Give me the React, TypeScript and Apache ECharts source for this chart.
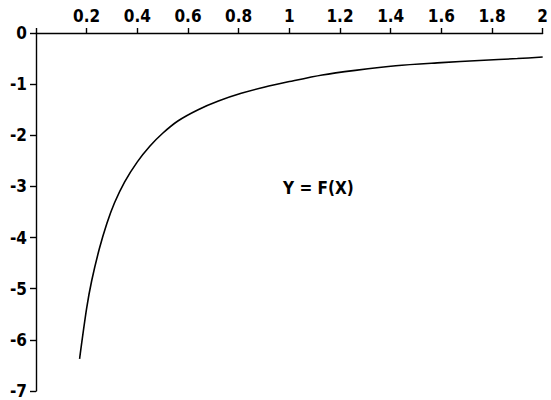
import React, { useEffect, useRef } from "react";
import * as echarts from "echarts";

const xValues = [0.172, 0.2, 0.22, 0.25, 0.28, 0.31, 0.35, 0.4, 0.45, 0.5, 0.56, 0.64, 0.72, 0.81, 0.9, 1.0, 1.13, 1.26, 1.42, 1.6, 1.75, 1.9, 2.0];
const yValues = [-6.37, -5.38, -4.84, -4.22, -3.72, -3.32, -2.91, -2.52, -2.21, -1.96, -1.72, -1.5, -1.33, -1.18, -1.06, -0.95, -0.82, -0.73, -0.64, -0.58, -0.537, -0.5, -0.47];
const xTicks = ["0", "0.2", "0.4", "0.6", "0.8", "1", "1.2", "1.4", "1.6", "1.8", "2"];
const yTicks = ["0", "-1", "-2", "-3", "-4", "-5", "-6", "-7"];
const annotation = "Y = F(X)";

const FONT = "'Liberation Sans Narrow', 'DejaVu Sans Condensed', 'Liberation Sans', sans-serif";

export default function App() {
  const ref = useRef<HTMLDivElement>(null);
  useEffect(() => {
    if (!ref.current) return;
    const chart = echarts.init(ref.current, null, { renderer: "svg" });
    chart.setOption({
      animation: false,
      backgroundColor: "#ffffff",
      grid: { left: 36, top: 33, right: 3, bottom: 9, containLabel: false },
      xAxis: {
        type: "value",
        position: "top",
        min: 0,
        max: 2,
        interval: 0.2,
        splitLine: { show: false },
        axisLine: { show: true, onZero: false, lineStyle: { color: "#000", width: 1.4 } },
        axisTick: { show: true, inside: false, length: 5, lineStyle: { color: "#000", width: 1.4 } },
        axisLabel: {
          show: true,
          margin: 9,
          color: "#000",
          fontSize: 17,
          fontWeight: "bold",
          fontFamily: FONT,
          formatter: (v: number) => {
            const i = Math.round(v / 0.2);
            return i === 0 ? "" : xTicks[i];
          },
        },
      },
      yAxis: {
        type: "value",
        min: -7,
        max: 0,
        interval: 1,
        splitLine: { show: false },
        axisLine: { show: true, onZero: false, lineStyle: { color: "#000", width: 1.4 } },
        axisTick: { show: true, inside: false, length: 6, lineStyle: { color: "#000", width: 1.4 } },
        axisLabel: {
          show: true,
          margin: 9,
          color: "#000",
          fontSize: 17,
          fontWeight: "bold",
          fontFamily: FONT,
          formatter: (v: number) => yTicks[Math.round(-v)],
        },
      },
      graphic: [
        {
          type: "text",
          left: 283,
          top: 179,
          style: { text: annotation, fontSize: 17, fontWeight: "bold", fontFamily: FONT, fill: "#000" },
        },
      ],
      series: [
        {
          type: "line",
          data: xValues.map((x, i) => [x, yValues[i]]),
          smooth: 0.3,
          showSymbol: false,
          lineStyle: { color: "#000", width: 1.6 },
        },
      ],
    });
    return () => chart.dispose();
  }, []);
  return (
    <div
      ref={ref}
      style={{ position: "fixed", left: 0, top: 0, width: 551, height: 400, background: "#fff" }}
    />
  );
}
